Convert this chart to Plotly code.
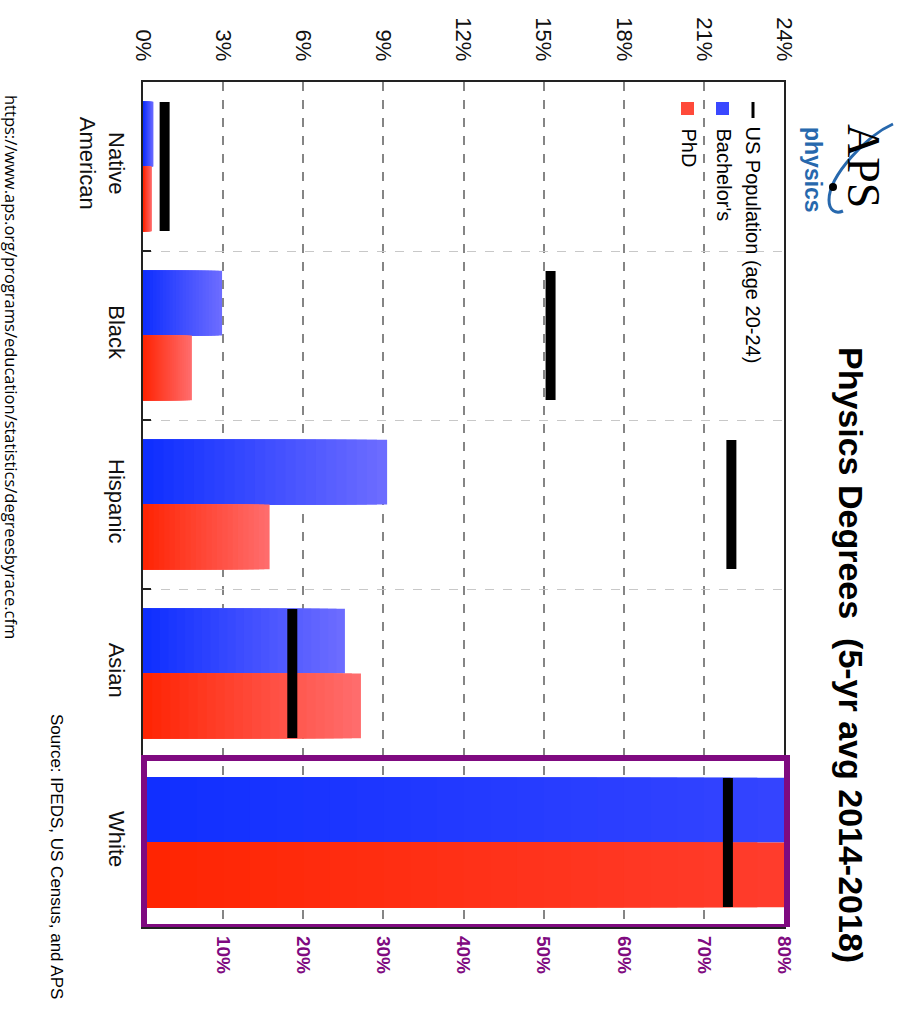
import plotly.graph_objects as go

# ---------------- data ----------------
categories = ["Native<br>American", "Black", "Hispanic", "Asian", "White"]
minor_cats = categories[:4]
# values in % on the 0-24% (black) axis
bachelors = [0.39, 2.96, 9.14, 7.56]
phd = [0.33, 1.83, 4.74, 8.16]
us_population = [0.81, 15.26, 22.03, 5.59]
# White is read on the purple 0-80% axis
white_cat = ["White"]
white_bachelors = [80.0]
white_phd = [80.0]
white_us_population = [73.0]

left_ticks = [0, 3, 6, 9, 12, 15, 18, 21, 24]
left_tick_labels = [f"{v}%" for v in left_ticks]
purple_ticks = [10, 20, 30, 40, 50, 60, 70, 80]
purple_tick_labels = [f"{v}%" for v in purple_ticks]

# ---------------- styling ----------------
W, H = 905, 1012
L, R, T, B = 143, 121, 82, 85
PW, PH = W - L - R, H - T - B
PURPLE = "#7f0a80"
FONT = "Liberation Sans, Arial, Helvetica, sans-serif"
BAR_W = 0.383
N_STEPS = 24
LINE_MARK = 92  # marker size giving a ~129 px long line


def px(xp):
    return (xp - L) / PW


def py(yp):
    return (H - B - yp) / PH


def mix(c1, c2, t):
    a = [int(c1[i:i + 2], 16) for i in (1, 3, 5)]
    b = [int(c2[i:i + 2], 16) for i in (1, 3, 5)]
    return "rgb({},{},{})".format(*[round(a[k] + (b[k] - a[k]) * t) for k in range(3)])


def gradient_bars(fig, ys, vals, dark, light, offset, axis, name):
    # long light bar first, then progressively shorter darker bars on top
    for k in range(N_STEPS):
        f = 1 - k / N_STEPS
        fig.add_trace(go.Bar(
            y=ys, x=[v * f for v in vals], orientation="h",
            width=BAR_W, offset=offset, xaxis=axis,
            marker=dict(color=mix(dark, light, f), line=dict(width=0)),
            name=name, showlegend=False,
            hoverinfo="skip" if k else "x+y",
        ))


fig = go.Figure()
gradient_bars(fig, minor_cats, bachelors, "#0b2cff", "#6c6cff", -BAR_W, "x", "Bachelor's")
gradient_bars(fig, minor_cats, phd, "#ff2200", "#ff6c6c", 0, "x", "PhD")
gradient_bars(fig, white_cat, white_bachelors, "#0f2eff", "#3444ff", -BAR_W, "x2", "Bachelor's")
gradient_bars(fig, white_cat, white_phd, "#ff2400", "#ff3c2c", 0, "x2", "PhD")

fig.add_trace(go.Scatter(
    y=minor_cats, x=us_population, mode="markers", xaxis="x",
    marker=dict(symbol="line-ns", size=LINE_MARK, line=dict(width=10, color="black")),
    name="US Population (age 20-24)", showlegend=False))
fig.add_trace(go.Scatter(
    y=white_cat, x=white_us_population, mode="markers", xaxis="x2",
    marker=dict(symbol="line-ns", size=LINE_MARK, line=dict(width=10, color="black")),
    name="US Population (age 20-24)", showlegend=False))

annotations = [
    dict(text="<b>Physics Degrees&nbsp;&nbsp;(5-yr avg 2014-2018)</b>", x=px(851), y=py(655),
         xref="paper", yref="paper", showarrow=False, textangle=90,
         font=dict(family=FONT, size=34, color="black"), xanchor="center", yanchor="middle"),
    dict(text="Source: IPEDS, US Census, and APS", x=px(57), y=py(856),
         xref="paper", yref="paper", showarrow=False, textangle=90,
         font=dict(family=FONT, size=17, color="black"), xanchor="center", yanchor="middle"),
    dict(text="https://www.aps.org/programs/education/statistics/degreesbyrace.cfm",
         x=px(11), y=py(367), xref="paper", yref="paper", showarrow=False, textangle=90,
         font=dict(family="Open Sans, sans-serif", size=16.5, color="black"),
         xanchor="center", yanchor="middle"),
    dict(text="US Population (age 20-24)", x=px(753), y=py(124),
         xref="paper", yref="paper", showarrow=False, textangle=90,
         font=dict(family=FONT, size=20, color="black"), xanchor="center", yanchor="top"),
    dict(text="Bachelor's", x=px(723), y=py(126),
         xref="paper", yref="paper", showarrow=False, textangle=90,
         font=dict(family=FONT, size=20, color="black"), xanchor="center", yanchor="top"),
    dict(text="PhD", x=px(688), y=py(126),
         xref="paper", yref="paper", showarrow=False, textangle=90,
         font=dict(family=FONT, size=20, color="black"), xanchor="center", yanchor="top"),
    dict(text="APS", x=px(864), y=py(166),
         xref="paper", yref="paper", showarrow=False, textangle=90,
         font=dict(family="Liberation Serif, Times New Roman, serif", size=46, color="black"),
         xanchor="center", yanchor="middle"),
    dict(text="<b>physics</b>", x=px(813), y=py(170),
         xref="paper", yref="paper", showarrow=False, textangle=90,
         font=dict(family=FONT, size=23, color="#2768ad"),
         xanchor="center", yanchor="middle"),
]

shapes = [
    # legend keys
    dict(type="line", xref="paper", yref="paper", x0=px(753), x1=px(753), y0=py(102), y1=py(118),
         line=dict(color="black", width=3)),
    dict(type="rect", xref="paper", yref="paper", x0=px(716), x1=px(729), y0=py(102), y1=py(115),
         fillcolor="#3a48ff", line=dict(width=0)),
    dict(type="rect", xref="paper", yref="paper", x0=px(681), x1=px(694), y0=py(102), y1=py(115),
         fillcolor="#ff4a3a", line=dict(width=0)),
    # APS swoosh
    dict(type="path", xref="paper", yref="paper",
         path=(f"M {px(893)},{py(124)} C {px(868)},{py(135)} {px(829)},{py(175)} {px(829)},{py(200)} "
               f"C {px(829)},{py(211)} {px(836)},{py(214)} {px(843)},{py(211)}"),
         line=dict(color="#2768ad", width=3)),
    dict(type="circle", xref="paper", yref="paper", x0=px(829), x1=px(837), y0=py(183), y1=py(191),
         fillcolor="black", line=dict(width=0)),
    # purple highlight box round White
    dict(type="rect", xref="paper", yref="y", x0=px(144), x1=px(787), y0=3.5, y1=4.5,
         line=dict(color=PURPLE, width=6), layer="above"),
]

fig.update_layout(
    width=W, height=H, autosize=False,
    margin=dict(l=L, r=R, t=T, b=B, pad=0),
    paper_bgcolor="white", plot_bgcolor="white",
    barmode="overlay", showlegend=False,
    font=dict(family=FONT, color="black"),
    xaxis=dict(
        range=[0, 24], side="top", tickvals=left_ticks, ticktext=left_tick_labels,
        tickangle=90, tickfont=dict(size=22, color="#111"), ticks="",
        ticklabelstandoff=11,
        showgrid=True, gridcolor="#858585", gridwidth=1.5, griddash="dash",
        showline=True, linecolor="#222", linewidth=2, mirror=True,
        zeroline=False, fixedrange=True,
    ),
    xaxis2=dict(
        range=[0, 80], overlaying="x", side="bottom", anchor="y",
        tickvals=purple_ticks, ticktext=purple_tick_labels,
        tickangle=90, tickfont=dict(size=19, color=PURPLE, family=FONT, weight="bold"), ticks="",
        ticklabelstandoff=8, showgrid=False, showline=False, zeroline=False,
    ),
    yaxis=dict(
        type="category", categoryarray=categories, range=[4.5, -0.5],
        tickangle=90, tickfont=dict(size=22, color="#111"),
        tickson="boundaries", ticks="inside", ticklen=8, tickcolor="#222", tickwidth=2,
        ticklabelstandoff=6,
        showgrid=True, gridcolor="#c8c8c8", gridwidth=1, griddash="dash",
        showline=True, linecolor="#222", linewidth=2, mirror=True,
        zeroline=False,
    ),
    annotations=annotations,
    shapes=shapes,
)

fig.write_html("out.html", config={"displayModeBar": False},
               post_script="document.body.style.margin='0px';")
